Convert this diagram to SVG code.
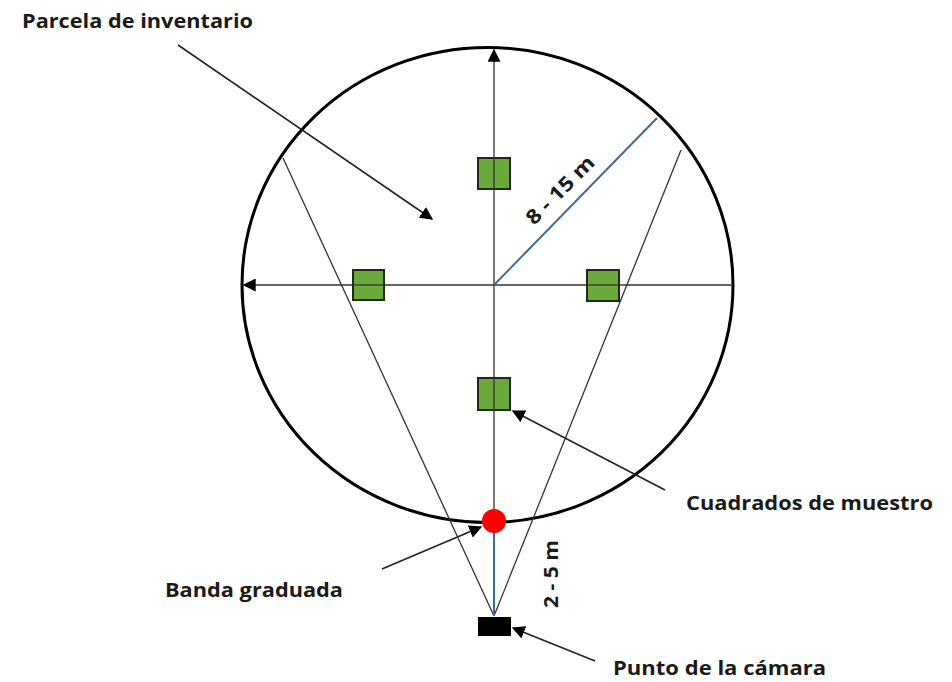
<svg xmlns="http://www.w3.org/2000/svg" width="952" height="682" viewBox="0 0 952 682">
<style>
.lbl{font-family:"Open Sans","Liberation Sans",sans-serif;font-weight:bold;font-size:19px;fill:#1a1a1a}
.thin{stroke:#333;stroke-width:1.3;fill:none}
.ptr{stroke:#222;stroke-width:1.6;fill:none}
.sq{fill:#6aaa3a;stroke:#1f2a10;stroke-width:2}
.blue{stroke:#3d6b94;stroke-width:2;fill:none}
</style>
<defs>
<marker id="ah2" viewBox="0 0 10 10" refX="9" refY="5" markerWidth="13" markerHeight="13" markerUnits="userSpaceOnUse" orient="auto">
<path d="M0,0 L10,5 L0,10 z" fill="#000"/>
</marker>
</defs>
<rect width="952" height="682" fill="#fff"/>

<g id="plot">
<ellipse cx="487.5" cy="285" rx="245.5" ry="237.5" fill="none" stroke="#000" stroke-width="3"/>
</g>

<g id="connectors">
<line class="thin" x1="494" y1="616" x2="494" y2="50" marker-end="url(#ah2)"/>
<line class="thin" x1="733" y1="285" x2="244" y2="285" marker-end="url(#ah2)"/>
<line class="thin" x1="494" y1="616" x2="283" y2="158"/>
<line class="thin" x1="494" y1="616" x2="681" y2="150"/>
<line class="blue" x1="494" y1="285" x2="657" y2="118"/>
<line class="blue" x1="494" y1="533" x2="494" y2="616"/>
<line class="ptr" x1="178" y1="45" x2="432" y2="219" marker-end="url(#ah2)"/>
<line class="ptr" x1="665" y1="490" x2="513" y2="411" marker-end="url(#ah2)"/>
<line class="ptr" x1="382" y1="569" x2="481" y2="527" marker-end="url(#ah2)"/>
<line class="ptr" x1="595" y1="661" x2="513" y2="628" marker-end="url(#ah2)"/>
</g>

<g id="sq-top"><rect class="sq" x="478" y="158" width="32" height="31"/><line class="thin" x1="494" y1="158" x2="494" y2="189"/></g>
<g id="sq-left"><rect class="sq" x="353" y="270" width="31" height="30"/><line class="thin" x1="353" y1="285" x2="384" y2="285"/></g>
<g id="sq-right"><rect class="sq" x="587" y="270" width="32" height="31"/><line class="thin" x1="587" y1="285" x2="619" y2="285"/></g>
<g id="sq-bottom"><rect class="sq" x="478" y="378" width="32" height="32"/><line class="thin" x1="494" y1="378" x2="494" y2="410"/></g>

<g id="band"><circle cx="494" cy="521" r="12" fill="#f00"/></g>
<g id="camera"><rect x="478" y="617" width="33" height="19" fill="#000"/></g>

<g id="labels">
<text class="lbl" x="22" y="28" textLength="231" lengthAdjust="spacingAndGlyphs">Parcela de inventario</text>
<text class="lbl" x="686" y="510" textLength="247" lengthAdjust="spacingAndGlyphs">Cuadrados de muestro</text>
<text class="lbl" x="165" y="597" textLength="178" lengthAdjust="spacingAndGlyphs">Banda graduada</text>
<text class="lbl" x="613" y="675" textLength="213" lengthAdjust="spacingAndGlyphs">Punto de la cámara</text>
<text class="lbl" style="font-size:20px" transform="translate(565,195) rotate(-45)" text-anchor="middle" textLength="88" lengthAdjust="spacingAndGlyphs">8 - 15 m</text>
<text class="lbl" transform="translate(558,574) rotate(-90)" text-anchor="middle" textLength="68" lengthAdjust="spacingAndGlyphs">2 - 5 m</text>
</g>
</svg>
